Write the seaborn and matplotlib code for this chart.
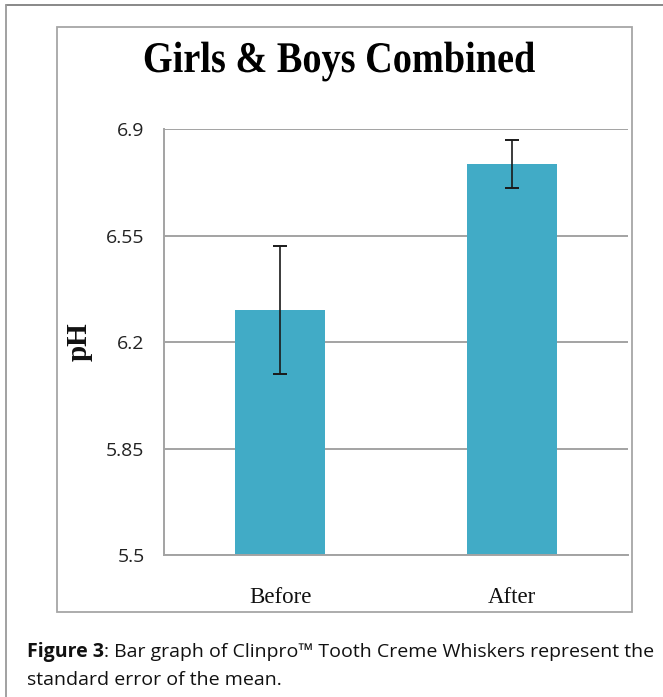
import matplotlib
matplotlib.use("Agg")
import matplotlib.pyplot as plt
import seaborn as sns
import pandas as pd
from matplotlib.lines import Line2D
from matplotlib.patches import Rectangle
from matplotlib.patheffects import AbstractPathEffect
from matplotlib.transforms import Affine2D

# ---- data ----
categories = ["Before", "After"]
ph_means = [6.305, 6.785]
ph_se = [0.21, 0.08]
y_ticks = [5.5, 5.85, 6.2, 6.55, 6.9]
y_tick_labels = ["5.5", "5.85", "6.2", "6.55", "6.9"]
title = "Girls & Boys Combined"
y_label = "pH"
caption_bold = "Figure 3"
caption_rest = ": Bar graph of Clinpro\u2122 Tooth Creme Whiskers represent the"
caption_line2 = "standard error of the mean."

W, H = 663, 697
sns.set_theme(style="white")
plt.rcParams["font.family"] = ["Open Sans", "DejaVu Sans"]

fig = plt.figure(figsize=(W / 100, H / 100), dpi=100)
fig.patch.set_facecolor("white")


def fx(px):
    return px / W


def fy(py):
    return 1 - py / H


class Condense(AbstractPathEffect):
    """Squash text horizontally about a fixed display x (narrow typeface look)."""

    def __init__(self, sx, x0):
        super().__init__()
        self.sx = sx
        self.x0 = x0

    def draw_path(self, renderer, gc, tpath, affine, rgbFace=None):
        a = affine + Affine2D().translate(-self.x0, 0).scale(self.sx, 1).translate(self.x0, 0)
        renderer.draw_path(gc, tpath, a, rgbFace)


# outer frame lines (top and left)
fig.add_artist(Line2D([fx(6), fx(663)], [fy(5), fy(5)], color="#7f7f7f", lw=1.3))
fig.add_artist(Line2D([fx(6), fx(6)], [fy(5), fy(697)], color="#9a9a9a", lw=1.3))
# inner chart box
fig.add_artist(Rectangle((fx(57), fy(612)), fx(632) - fx(57), fy(27) - fy(612),
                         fill=False, edgecolor="#a6a6a6", lw=1.3))

ax = fig.add_axes([fx(164), fy(555), fx(628) - fx(164), fy(129) - fy(555)])
df = pd.DataFrame({"cat": categories, "ph": ph_means})
sns.barplot(data=df, x="cat", y="ph", color="#41abc6", saturation=1,
            width=0.39, errorbar=None, ax=ax, zorder=2)
for p in ax.patches:
    p.set_edgecolor("none")

centers = [p.get_x() + p.get_width() / 2 for p in ax.patches]
heights = [p.get_height() for p in ax.patches]
ax.errorbar(centers, heights, yerr=ph_se, fmt="none", ecolor="#1a1a1a",
            elinewidth=1.2, capsize=5, capthick=1.4, zorder=3)

ax.set_ylim(5.5, 6.9)
ax.set_xlim(-0.5, 1.5)
ax.set_yticks(y_ticks)
ax.set_yticklabels(y_tick_labels, fontsize=14, family=["Open Sans", "DejaVu Sans"], color="#222222")
ax.set_xticks(range(len(categories)))
ax.set_xticklabels(categories, fontsize=16.5, family="Liberation Serif", color="#111111")
ax.tick_params(axis="both", length=0)
ax.tick_params(axis="y", pad=14)
ax.tick_params(axis="x", pad=23)
ax.set_xlabel("")
ax.set_ylabel("")
ax.yaxis.grid(True, color="#a3a3a3", lw=1.4, zorder=0)
ax.set_axisbelow(True)
for s in ["top", "right"]:
    ax.spines[s].set_visible(False)
for s in ["left", "bottom"]:
    ax.spines[s].set_color("#a3a3a3")
    ax.spines[s].set_linewidth(1.4)

fig.text(fx(79), fy(342), y_label, rotation=90, ha="center", va="center",
         fontsize=21, fontweight="bold", family="Liberation Serif", color="#111111")
fig.text(fx(339), fy(72), title, ha="center", va="baseline",
         fontsize=31.5, fontweight="bold", family="Liberation Serif", color="#000000",
         path_effects=[Condense(0.875, 339)])

# caption
fig.canvas.draw()
r = fig.canvas.get_renderer()
cap_fs = 14.0
t1 = fig.text(fx(27), fy(652), caption_bold, ha="left", va="center",
              fontsize=cap_fs, fontweight="bold", color="#111111")
bb = t1.get_window_extent(renderer=r)
fig.text(bb.x1 / W, fy(652), caption_rest, ha="left", va="center",
         fontsize=cap_fs, color="#111111")
fig.text(fx(27), fy(680), caption_line2, ha="left", va="center",
         fontsize=cap_fs, color="#111111")

fig.savefig("out.png", dpi=100, facecolor="white")
